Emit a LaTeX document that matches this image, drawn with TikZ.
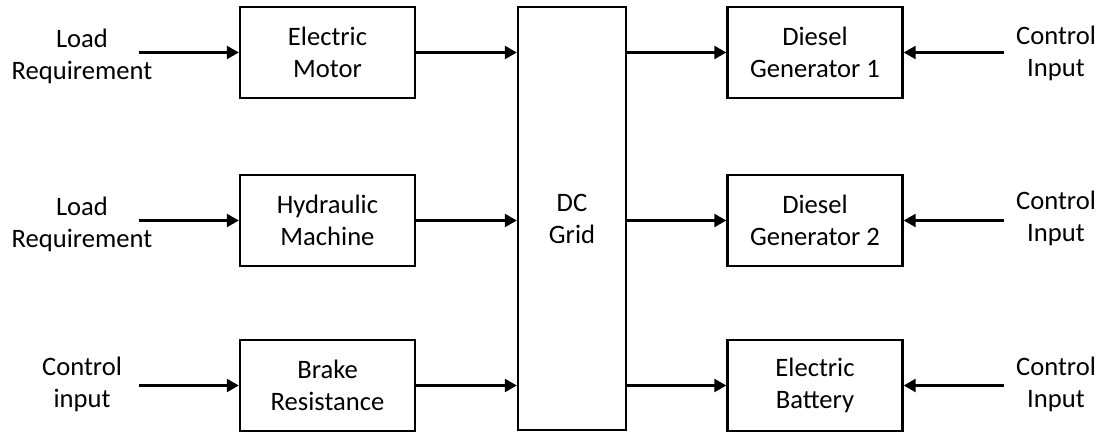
\documentclass[tikz,border=0pt]{standalone}
\usepackage{fontspec}
\setmainfont{Carlito}
\usetikzlibrary{arrows.meta}
\begin{document}
\begin{tikzpicture}[x=1pt,y=-1pt,
  every node/.style={font=\fontsize{26.6pt}{32pt}\selectfont, align=center, inner sep=0pt},
  blockbox/.style={draw, line width=2.4pt, minimum width=175pt, minimum height=91pt},
  gridbox/.style={draw, line width=2.4pt, minimum width=108pt, minimum height=423pt},
  flow/.style={line width=2.4pt, -{Triangle[length=12pt,width=13pt]}}
]
\useasboundingbox (0,0) rectangle (1104,436);
% left blocks
\node[blockbox] (m1) at (327.5,52.5) {Electric\\Motor};
\node[blockbox] (m2) at (327.5,220.5) {Hydraulic\\Machine};
\node[blockbox] (m3) at (327.5,385.5) {Brake\\Resistance};
% DC grid
\node[gridbox] (dc) at (572,218.5) {DC\\Grid};
% right blocks
\node[blockbox] (g1) at (815,52.5) {Diesel\\Generator 1};
\node[blockbox] (g2) at (815,220.5) {Diesel\\Generator 2};
\node[blockbox] (g3) at (815,385.5) {Electric\\Battery};
% left labels
\node (l1) at (82,56) {Load\\Requirement};
\node (l2) at (82,224) {Load\\Requirement};
\node (l3) at (82,384) {Control\\input};
% right labels
\node (r1) at (1056,53) {Control\\Input};
\node (r2) at (1056,218) {Control\\Input};
\node (r3) at (1056,384) {Control\\Input};
% arrow start coordinates
\coordinate (s1) at (139,52.5);
\coordinate (s2) at (139,220.5);
\coordinate (s3) at (139,385.5);
\coordinate (t1) at (1004,52.5);
\coordinate (t2) at (1004,220.5);
\coordinate (t3) at (1004,385.5);
% arrows
\draw[flow] (s1) -- (m1.west);
\draw[flow] (s2) -- (m2.west);
\draw[flow] (s3) -- (m3.west);
\draw[flow] (m1.east) -- (m1.east -| dc.west);
\draw[flow] (m2.east) -- (m2.east -| dc.west);
\draw[flow] (m3.east) -- (m3.east -| dc.west);
\draw[flow] (dc.east |- g1.west) -- (g1.west);
\draw[flow] (dc.east |- g2.west) -- (g2.west);
\draw[flow] (dc.east |- g3.west) -- (g3.west);
\draw[flow] (t1) -- (g1.east);
\draw[flow] (t2) -- (g2.east);
\draw[flow] (t3) -- (g3.east);
\end{tikzpicture}
\end{document}
